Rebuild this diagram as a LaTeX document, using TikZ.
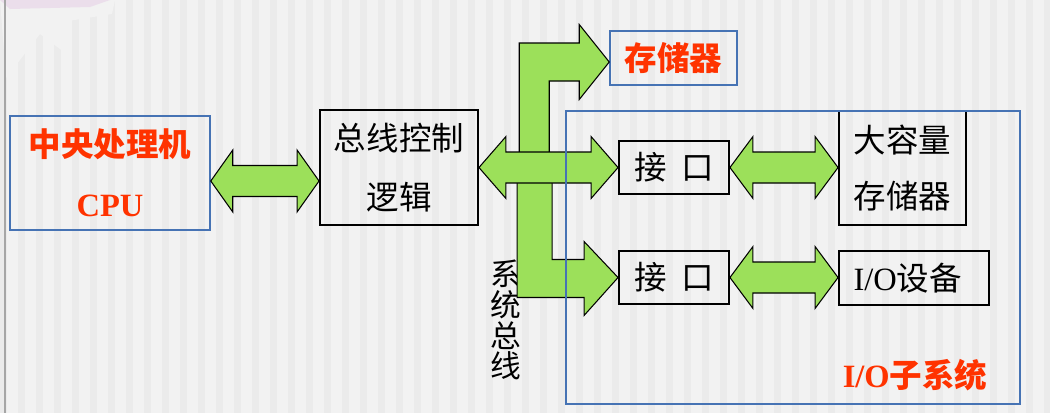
\documentclass[tikz,border=0pt]{standalone}
\usepackage{fontspec}
\setmainfont{Liberation Serif}
\newfontfamily\cjk{Noto Sans CJK SC}
\usetikzlibrary{calc}
\definecolor{busgreen}{RGB}{156,224,90}
\definecolor{titlered}{RGB}{255,51,0}
\definecolor{frameblue}{RGB}{70,115,180}
\definecolor{slidegray}{RGB}{242,242,242}
\definecolor{stripegray}{RGB}{235,235,235}
% flecha doble ancha: [largo de punta]{origen}{destino}
\newcommand\dblarrow[3][22]{%
	\draw[fatarrow] (#2) -- ($(#2)+(#1,-31)$) -- ($(#2)+(#1,-15.5)$) -- ($(#3)+(-#1,-15.5)$)
		-- ($(#3)+(-#1,-31)$) -- (#3) -- ($(#3)+(-#1,31)$) -- ($(#3)+(-#1,15.5)$)
		-- ($(#2)+(#1,15.5)$) -- ($(#2)+(#1,31)$) -- cycle;}
\begin{document}
\begin{tikzpicture}[x=0.02cm, y=-0.02cm,
	font=\cjk\fontsize{18.5}{34}\selectfont,
	blackbox/.style={draw=black, line width=1.1pt, align=center, inner sep=0pt},
	bluebox/.style={draw=frameblue, line width=0.9pt, align=center, inner sep=0pt},
	redtext/.style={text=titlered, font=\cjk\bfseries\fontsize{18.5}{34}\selectfont},
	fatarrow/.style={draw=black, fill=busgreen, line width=0.6pt}]
	\useasboundingbox (0,0) rectangle (1050,413);
	% Fondo de la diapositiva
	\fill[slidegray] (0,0) rectangle (1050,413);
	\foreach \x in {0,18,...,1044}
		\fill[stripegray] (\x,0) rectangle ++(7,413);
	\fill[black!5] (0,0) -- (115,0) -- (112,14) -- (62,22) -- (72,58) -- (40,34) -- (6,78) -- cycle;
	\fill[violet!20, opacity=.5] (0,0) -- (110,0) -- (90,7) -- (10,9) -- cycle;
	\draw[gray!70, line width=0.04cm] (5,0) -- (5,413);
	% Bloques
	\node[bluebox, redtext, minimum width=4cm, minimum height=2.28cm] (cpu) at (110,173)
		{中央处理机\\{\rmfamily CPU}};
	\node[blackbox, minimum width=3.16cm, minimum height=2.3cm] (ctl) at (399,167.5)
		{总线控制\\逻辑};
	\node[bluebox, redtext, minimum width=2.54cm, minimum height=1.08cm] (mem) at (673.5,58) {存储器};
	\node[blackbox, minimum width=2.2cm, minimum height=1.06cm] (if1) at (674,167.5) {接\hspace{.45em}口};
	\node[blackbox, minimum width=2.2cm, minimum height=1.06cm] (if2) at (674,277.5) {接\hspace{.45em}口};
	\node[blackbox, minimum width=2.54cm, minimum height=2.28cm,
		font=\cjk\fontsize{18.5}{32}\selectfont] (disk) at (902.5,168) {大容量\\存储器};
	\node[blackbox, minimum width=3cm, minimum height=1.08cm] (iodev) at (914,278)
		{{\rmfamily I/O}设备\hspace{0.25cm}};
	\node[align=center, inner sep=0pt, font=\cjk\fontsize{17.5}{17.5}\selectfont] (busname)
		at (506,320) {系\\统\\总\\线};
	% Bus del sistema
	\coordinate (memL) at ($(mem.west)+(0,4)$);
	\draw[fatarrow] (memL) -- ++(-30,-37.5) -- ++(0,18.5) -- ++(-60,0) -- ++(0,131)
		-- ++(30,0) -- ++(0,-93) -- ++(30,0) -- ++(0,18.5) -- cycle;
	\draw[fatarrow] (if2.west) -- ++(-34,-36) -- ++(0,18) -- ++(-32,0) -- ++(0,-95)
		-- ++(-35,0) -- ++(0,133) -- ++(67,0) -- ++(0,18) -- cycle;
	\coordinate (ctlR) at (ctl.east |- if1.west);
	\dblarrow[27]{ctlR}{if1.west}
	% Enlaces punto a punto
	\coordinate (cpuR) at ($(cpu.east)+(0,8)$);
	\coordinate (ctlL) at (ctl.west |- cpuR);
	\dblarrow{cpuR}{ctlL}
	\coordinate (diskL) at (disk.west |- if1.east);
	\dblarrow[23]{if1.east}{diskL}
	\coordinate (devL) at (iodev.west |- if2.east);
	\dblarrow[23]{if2.east}{devL}
	% Subsistema de E/S
	\node[bluebox, minimum width=9.08cm, minimum height=5.86cm] (iosub) at (793,257.5) {};
	\node[redtext, inner sep=0pt] (iolabel) at (915,375) {{\rmfamily I/O}子系统};
\end{tikzpicture}
\end{document}
